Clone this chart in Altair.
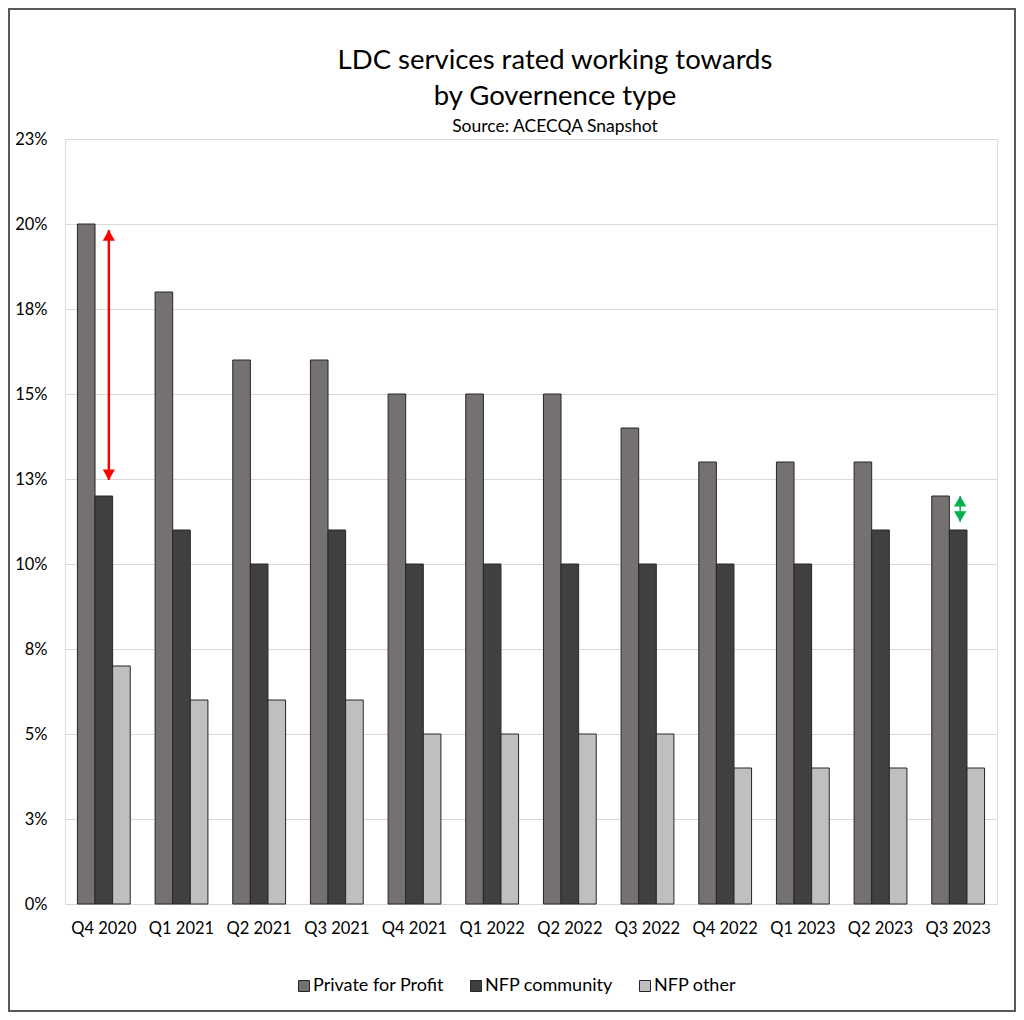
import altair as alt
import pandas as pd

quarters = ["Q4 2020", "Q1 2021", "Q2 2021", "Q3 2021", "Q4 2021", "Q1 2022",
            "Q2 2022", "Q3 2022", "Q4 2022", "Q1 2023", "Q2 2023", "Q3 2023"]
series = ["Private for Profit", "NFP community", "NFP other"]
private_profit = [20, 18, 16, 16, 15, 15, 15, 14, 13, 13, 13, 12]
nfp_community = [12, 11, 10, 11, 10, 10, 10, 10, 10, 10, 11, 11]
nfp_other = [7, 6, 6, 6, 5, 5, 5, 5, 4, 4, 4, 4]
colors = ["#767171", "#404040", "#bfbfbf"]
y_ticks = [0, 2.5, 5, 7.5, 10, 12.5, 15, 17.5, 20, 22.5]

# annotation arrows (value ranges in %)
arrow_quarter = ["Q4 2020", "Q3 2023"]
arrow_top = [19.82, 12.0]
arrow_bottom = [12.47, 11.24]
arrow_color = ["#ff0000", "#00b050"]

FONT = "Lato"

rows = []
for i, q in enumerate(quarters):
    for s, vals in zip(series, [private_profit, nfp_community, nfp_other]):
        rows.append({"quarter": q, "series": s, "value": vals[i]})
df = pd.DataFrame(rows)

arr = pd.DataFrame({"quarter": arrow_quarter, "top": arrow_top, "bottom": arrow_bottom,
                    "color": arrow_color})

x_enc = alt.X("quarter:N", sort=quarters, title=None,
              scale=alt.Scale(paddingInner=0.32, paddingOuter=0.16),
              axis=alt.Axis(labelAngle=0, labelFontSize=16.5, labelColor="#000000",
                            labelFont=FONT, domain=False, ticks=False, labelPadding=16))
y_scale = alt.Scale(domain=[0, 22.5], nice=False)

bars = alt.Chart(df).mark_bar(stroke="#262626", strokeWidth=1).encode(
    x=x_enc,
    xOffset=alt.XOffset("series:N", sort=series),
    y=alt.Y("value:Q", scale=y_scale, title=None,
            axis=alt.Axis(values=y_ticks, labelExpr="round(datum.value) + '%'",
                          labelFontSize=16.5, labelColor="#000000", labelFont=FONT,
                          domain=False, ticks=False, labelPadding=18,
                          grid=True, gridColor="#d9d9d9", gridWidth=1.2)),
    color=alt.Color("series:N", sort=series,
                    scale=alt.Scale(domain=series, range=colors),
                    legend=alt.Legend(title=None, orient="none", direction="horizontal",
                                      legendX=230, legendY=838,
                                      symbolType="square", symbolSize=121,
                                      symbolStrokeColor="#262626", symbolStrokeWidth=1,
                                      labelFontSize=18, labelFont=FONT, labelColor="#000000",
                                      labelOffset=0, columnPadding=23)),
)

red = arr.iloc[[0]]
green = arr.iloc[[1]]

def arrow_layers(d, off, width):
    base = alt.Chart(d).encode(x=alt.X("quarter:N", sort=quarters))
    shaft = base.mark_rule(strokeWidth=width, xOffset=off).encode(
        y=alt.Y("top:Q", scale=y_scale), y2="bottom:Q",
        color=alt.Color("color:N", scale=None))
    head_up = base.mark_point(shape="triangle-up", filled=True, size=150, opacity=1,
                              xOffset=off, yOffset=5.3).encode(
        y=alt.Y("top:Q", scale=y_scale), color=alt.Color("color:N", scale=None))
    head_down = base.mark_point(shape="triangle-down", filled=True, size=150, opacity=1,
                                xOffset=off, yOffset=-5.3).encode(
        y=alt.Y("bottom:Q", scale=y_scale), color=alt.Color("color:N", scale=None))
    return [shaft, head_up, head_down]

frame = alt.Chart(alt.Data(values=[{}])).mark_rect(
    fill=None, stroke="#595959", strokeWidth=2).encode(
    x=alt.value(-56), x2=alt.value(950), y=alt.value(-130), y2=alt.value(872))

chart = alt.layer(
    bars, *arrow_layers(red, 5, 2.5), *arrow_layers(green, 2, 1.5), frame
).resolve_scale(color="independent").properties(
    width=932, height=765,
    autosize=alt.AutoSizeParams(type="none"),
    padding={"left": 57, "top": 131, "right": 19, "bottom": 108},
    title=alt.Title(
        text=["LDC services rated working towards", "by Governence type"],
        subtitle="Source: ACECQA Snapshot",
        anchor="middle", dx=24, offset=-127,
        font=FONT, fontSize=27.5, fontWeight="normal", color="#000000", lineHeight=36,
        subtitleFont=FONT, subtitleFontSize=17.5, subtitleColor="#000000", subtitlePadding=7,
    ),
).configure_view(stroke=None).configure(background="white")

chart.save("out.html", embed_options={"renderer": "svg", "actions": False})
